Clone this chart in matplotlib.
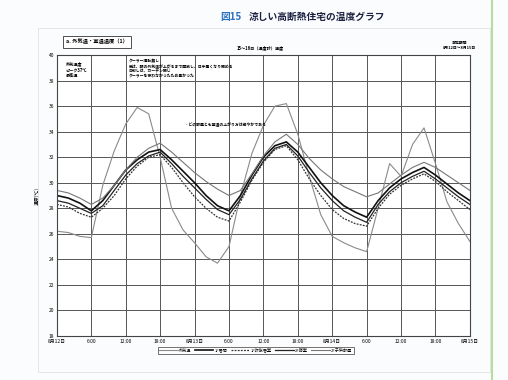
import matplotlib
matplotlib.use("Agg")
import matplotlib.pyplot as plt
from matplotlib.patches import Rectangle
from matplotlib.lines import Line2D

plt.rcParams['font.family'] = ['Noto Sans CJK JP', 'DejaVu Sans']

# hours from 8/12 0:00, every 2 hours
hours = list(range(0, 73, 2))

outdoor = [26.2, 26.1, 25.8, 25.7, 29.8, 32.5, 34.6, 35.9, 35.4, 32.0, 28.0, 26.3,
           25.3, 24.2, 23.7, 25.0, 29.0, 32.3, 34.5, 36.0, 36.2, 33.8, 30.5, 27.5,
           25.8, 25.3, 24.9, 24.6, 28.0, 31.5, 30.5, 33.0, 34.3, 31.5, 28.5, 26.8, 25.4]
room_a = [29.0, 28.8, 28.4, 27.8, 28.6, 29.8, 31.0, 31.8, 32.4, 32.6, 31.8, 30.9,
          30.0, 29.0, 28.2, 27.8, 29.0, 30.6, 32.0, 32.9, 33.2, 32.4, 31.2, 30.0,
          29.0, 28.2, 27.7, 27.3, 28.6, 29.6, 30.3, 30.8, 31.2, 30.6, 29.9, 29.2, 28.6]
room_b = [28.6, 28.4, 28.0, 27.6, 28.2, 29.4, 30.6, 31.5, 32.1, 32.4, 31.5, 30.5,
          29.6, 28.7, 27.9, 27.5, 28.7, 30.3, 31.7, 32.7, 33.0, 32.1, 30.8, 29.6,
          28.6, 27.8, 27.3, 26.9, 28.3, 29.3, 30.0, 30.5, 30.9, 30.3, 29.6, 28.9, 28.3]
room_c = [28.3, 28.1, 27.6, 27.3, 28.0, 29.0, 30.3, 31.3, 32.0, 32.2, 31.2, 30.0,
          28.9, 28.0, 27.3, 27.0, 28.5, 30.2, 31.6, 32.6, 32.9, 31.8, 30.3, 29.0,
          27.9, 27.2, 26.8, 26.6, 28.0, 29.1, 29.8, 30.3, 30.7, 30.1, 29.3, 28.6, 27.9]
room_d = [29.4, 29.2, 28.8, 28.3, 28.8, 29.8, 31.0, 32.0, 32.7, 33.1, 32.4, 31.6,
          30.8, 30.1, 29.5, 29.0, 29.4, 30.7, 32.1, 33.2, 33.8, 33.0, 31.9, 31.0,
          30.3, 29.7, 29.3, 28.9, 29.2, 29.9, 30.6, 31.2, 31.6, 31.2, 30.6, 30.0, 29.4]

series_names = ['外気温', '1F居間', '1F吹抜居室', '2F寝室', '2F子供部屋']
xtick_labels = ['8月12日', '6:00', '12:00', '18:00', '8月13日', '6:00', '12:00',
                '18:00', '8月14日', '6:00', '12:00', '18:00', '8月15日']
yticks = list(range(18, 41, 2))

fig = plt.figure(figsize=(5.08, 3.80), dpi=100)
fig.patch.set_facecolor('#fbfcfd')
ax = fig.add_axes([0.112, 0.116, 0.813, 0.739])

ax.plot(hours, outdoor, color='#8a8a8a', lw=0.8, label=series_names[0])
ax.plot(hours, room_a, color='#111111', lw=1.2, label=series_names[1])
ax.plot(hours, room_c, color='#333333', lw=0.9, ls=(0, (1.5, 1)), label=series_names[2])
ax.plot(hours, room_b, color='#222222', lw=0.9, label=series_names[3])
ax.plot(hours, room_d, color='#777777', lw=0.8, label=series_names[4])

ax.set_xlim(0, 72)
ax.set_ylim(18, 40)
ax.set_xticks(range(0, 73, 6))
ax.set_xticklabels(xtick_labels, fontsize=3.5)
ax.set_yticks(yticks)
ax.set_yticklabels([str(v) for v in yticks], fontsize=3.5)
ax.tick_params(length=0, pad=2)
ax.grid(True, color='#555555', lw=0.7)
ax.set_axisbelow(True)
for s in ax.spines.values():
    s.set_color('#444444')
    s.set_linewidth(0.8)
ax.set_facecolor('white')
ax.set_ylabel('温度(℃)', fontsize=3.5, labelpad=6)

# annotations in the plot
ax.text(1.5, 39.5, '外気温度\nピーク37℃\n最高温', fontsize=3, va='top', fontweight='bold')
ax.text(12.5, 39.7, 'クーラー運転無し\n窓は、朝の外気温が上がるまで開放し、日中暑くなり閉める\n'
        '日射しは、カーテン閉じ\nクーラーを使わなかったため暑かった',
        fontsize=2.8, va='top', fontweight='bold', linespacing=1.3)
ax.text(22.5, 34.4, '- どの部屋とも室温の上がり方は緩やかである', fontsize=2.8, fontweight='bold')

# figure texts
fig.text(0.475, 0.948, '図15', color='#2a6fc0', fontsize=7, fontweight='bold', ha='right')
fig.text(0.49, 0.948, '涼しい高断熱住宅の温度グラフ', color='#1a2040', fontsize=7,
         fontweight='bold', ha='left')
fig.text(0.13, 0.885, 'a. 外気温・室温温度（1）', fontsize=3.8, fontweight='bold',
         bbox=dict(boxstyle='square,pad=0.6', fc='white', ec='#333333', lw=0.6))
fig.text(0.465, 0.872, '15～16日（温度計）温度', fontsize=3, fontweight='bold')
fig.text(0.905, 0.872, '測定期間\n8月12日～8月15日', fontsize=2.8, ha='center',
         fontweight='bold')

# outer frame and page edge
fig.patches.append(Rectangle((0.075, 0.02), 0.89, 0.905, transform=fig.transFigure,
                             fill=False, ec='#dde3e8', lw=0.6))
fig.add_artist(Line2D([0.968, 0.968], [0.0, 1.0], transform=fig.transFigure,
                      color='#b8dc9a', lw=1.5))

leg = fig.legend(loc='center', bbox_to_anchor=(0.503, 0.078), ncol=5, fontsize=3,
                 frameon=True, fancybox=False, edgecolor='#333333', handlelength=4.5,
                 columnspacing=0.8, handletextpad=0.3, borderpad=0.3)
leg.get_frame().set_linewidth(0.6)

fig.savefig('out.png', dpi=100, facecolor=fig.get_facecolor())
